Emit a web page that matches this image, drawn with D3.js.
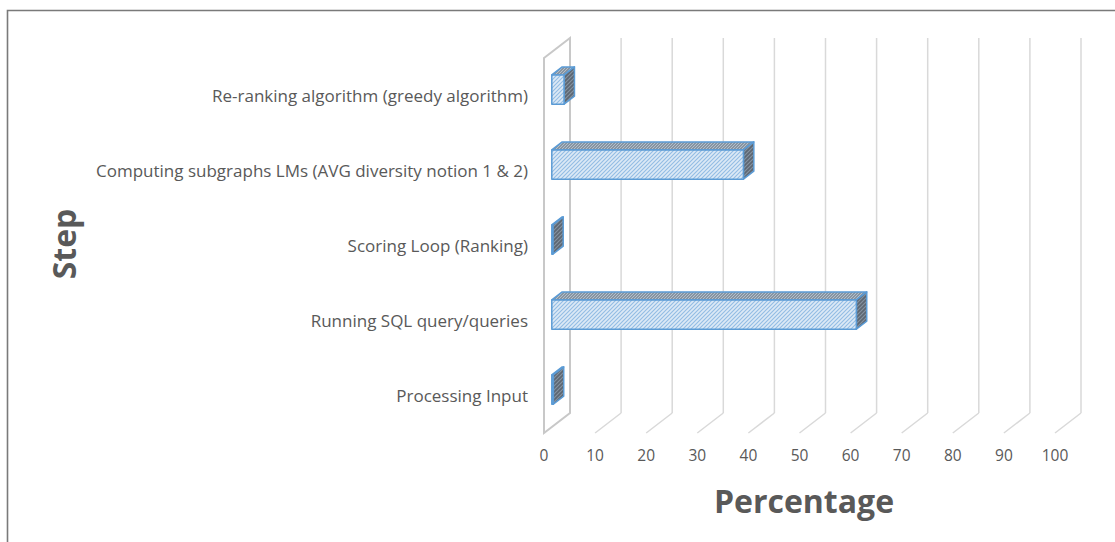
<!DOCTYPE html>
<html>
<head>
<meta charset="utf-8">
<script src="https://cdn.jsdelivr.net/npm/d3@7"></script>
<style>
  html, body { margin: 0; padding: 0; background: #fff; }
  svg { display: block; }
  text { font-family: "Open Sans", "DejaVu Sans", sans-serif; fill: #595959; }
</style>
</head>
<body>
<svg id="chart" width="1115" height="542"></svg>
<script>
// ---- data ----
const categories = [
  "Re-ranking algorithm (greedy algorithm)",
  "Computing subgraphs LMs (AVG diversity notion 1 & 2)",
  "Scoring Loop (Ranking)",
  "Running SQL query/queries",
  "Processing Input"
];
const values = [2.4, 37.5, 0.2, 59.6, 0.3];
const xTicks = [0, 10, 20, 30, 40, 50, 60, 70, 80, 90, 100];
const xTitle = "Percentage";
const yTitle = "Step";

// ---- layout ----
const W = 1115, H = 542;
const svg = d3.select("#chart");

const frontLeft = 544, frontRight = 1055;
const frontTop = 58, frontBottom = 433;
const depthDX = 26, depthDY = -20;       // oblique offset front -> back wall
const barD0 = 0.3, barD1 = 0.7;          // bar depth fractions

const x = d3.scaleLinear().domain([0, 100]).range([frontLeft, frontRight]);
const y = d3.scaleBand().domain(categories).range([frontTop, frontBottom]).padding(0);
const barH = y.bandwidth() * 0.39;

const P = (px, py, d) => [px + d * depthDX, py + d * depthDY];

// ---- patterns ----
const defs = svg.append("defs");
function hatch(id, bg, fg, size, sw) {
  const p = defs.append("pattern").attr("id", id)
    .attr("patternUnits", "userSpaceOnUse").attr("width", size).attr("height", size);
  p.append("rect").attr("width", size).attr("height", size).attr("fill", bg);
  p.append("path")
    .attr("d", `M0,${size} L${size},0 M${-size/2},${size/2} L${size/2},${-size/2} M${size/2},${size*1.5} L${size*1.5},${size/2}`)
    .attr("stroke", fg).attr("stroke-width", sw);
}
hatch("pFront", "#dce9f6", "#92bce4", 4, 1.1);
hatch("pTop", "#8794a1", "#b3bfcb", 3, 1);
hatch("pSide", "#5c6672", "#8492a0", 4, 1.2);

// ---- chart border ----
svg.append("path")
  .attr("d", `M7.5,${H} V10.5 H${W}`)
  .attr("fill", "none").attr("stroke", "#7a7a7a").attr("stroke-width", 1.6);

// ---- back wall gridlines and floor diagonals ----
const grid = svg.append("g");
xTicks.forEach(t => {
  const [bx, byTop] = P(x(t), frontTop, 1);
  const [, byBot] = P(x(t), frontBottom, 1);
  if (t !== 0) {
    grid.append("line").attr("x1", bx).attr("x2", bx).attr("y1", byTop).attr("y2", byBot)
      .attr("stroke", "#d9d9d9").attr("stroke-width", 1.5);
    grid.append("line").attr("x1", x(t)).attr("y1", frontBottom).attr("x2", bx).attr("y2", byBot)
      .attr("stroke", "#d9d9d9").attr("stroke-width", 1.5);
  }
});

// side wall at 0
const s0 = [x(0), frontTop], s1 = P(x(0), frontTop, 1), s2 = P(x(0), frontBottom, 1), s3 = [x(0), frontBottom];
grid.append("path")
  .attr("d", `M${s0} L${s1} L${s2} L${s3} Z`)
  .attr("fill", "none").attr("stroke", "#c8c8c8").attr("stroke-width", 2);

// ---- bars ----
const bars = svg.append("g");
categories.forEach((c, i) => {
  const v = values[i];
  const cy = y(c) + y.bandwidth() / 2;
  const yt = cy - barH / 2, yb = cy + barH / 2;
  const fTL = P(x(0), yt, barD0), fTR = P(x(v), yt, barD0);
  const fBL = P(x(0), yb, barD0), fBR = P(x(v), yb, barD0);
  const bTL = P(x(0), yt, barD1), bTR = P(x(v), yt, barD1);
  const bBR = P(x(v), yb, barD1);
  const g = bars.append("g").attr("stroke", "#5b9bd5").attr("stroke-width", 1.5).attr("stroke-linejoin", "round");
  g.append("path").attr("d", `M${fTL} L${fTR} L${bTR} L${bTL} Z`).attr("fill", "url(#pTop)");
  g.append("path").attr("d", `M${fTR} L${bTR} L${bBR} L${fBR} Z`).attr("fill", "url(#pSide)");
  g.append("path").attr("d", `M${fTL} L${fTR} L${fBR} L${fBL} Z`).attr("fill", "url(#pFront)");
});

// ---- category labels ----
const labels = svg.append("g");
const labelNodes = categories.map(c =>
  labels.append("text")
    .attr("x", 528).attr("y", y(c) + y.bandwidth() / 2)
    .attr("text-anchor", "end").attr("dominant-baseline", "central")
    .style("font-size", "15px").text(c)
);
// fit font size so longest label matches reference width
const longest = d3.max(labelNodes, n => n.node().getComputedTextLength());
const labelSize = Math.min(17, 15 * 432 / longest);
labelNodes.forEach(n => n.style("font-size", labelSize + "px"));

// ---- tick labels ----
svg.append("g").selectAll("text").data(xTicks).join("text")
  .attr("x", d => x(d)).attr("y", 455)
  .attr("text-anchor", "middle").attr("dominant-baseline", "central")
  .style("font-size", "15.5px").text(d => d);

// ---- titles ----
svg.append("text").attr("x", 804).attr("y", 513)
  .attr("text-anchor", "middle").style("font-size", "32px").style("font-weight", "bold")
  .text(xTitle);
svg.append("text").attr("transform", "translate(76,244) rotate(-90)")
  .attr("text-anchor", "middle").style("font-size", "32px").style("font-weight", "bold")
  .text(yTitle);
</script>
</body>
</html>
